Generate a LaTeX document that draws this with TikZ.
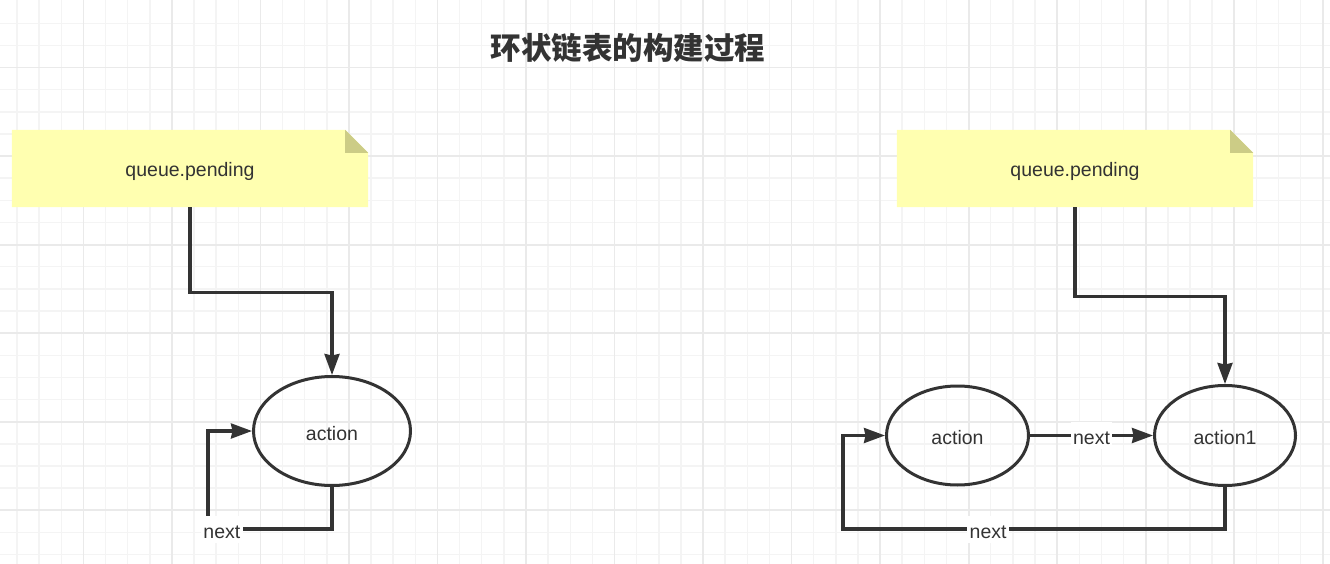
\documentclass[tikz,border=0pt]{standalone}
\usepackage{fontspec}
\setmainfont{Liberation Sans}
\newfontfamily\cjk{Noto Sans CJK SC}
\usetikzlibrary{shapes.geometric,arrows.meta}
\definecolor{ink}{HTML}{333333}
\definecolor{notecol}{HTML}{FFFFB0}
\definecolor{foldcol}{HTML}{CCCC86}
\definecolor{gridmin}{HTML}{F4F4F4}
\definecolor{gridmaj}{HTML}{EAEAEA}
\pgfdeclarelayer{grid}
\pgfdeclarelayer{paper}
\pgfsetlayers{grid,paper,main}
\tikzset{
  note/.style={minimum width=356pt, minimum height=77pt, inner sep=0pt, text=ink, text height=19pt, text depth=2pt, font=\fontsize{19.5}{23}\selectfont},
  act/.style={ellipse, draw=ink, line width=3pt, inner sep=0pt, text=ink, text height=20pt, text depth=2pt, font=\fontsize{19.5}{23}\selectfont},
  link/.style={draw=ink, line width=3.1pt, -{Stealth[length=21pt,width=15pt,inset=1.5pt]}},
  lbl/.style={fill=white, text=ink, inner sep=2.5pt, text height=20pt, text depth=2pt, font=\fontsize{19.5}{23}\selectfont},
}
% foglio giallo con angolo piegato
\newcommand\notepaper[1]{%
  \begin{pgfonlayer}{paper}
    \fill[notecol](#1.south west)--(#1.north west)--([xshift=-23pt]#1.north east)--([yshift=-23pt]#1.north east)--(#1.south east)--cycle;
    \fill[foldcol]([xshift=-23pt]#1.north east)--([shift={(-23pt,-23pt)}]#1.north east)--([yshift=-23pt]#1.north east)--cycle;
  \end{pgfonlayer}}
\begin{document}
\begin{tikzpicture}[x=1pt,y=-1pt]
    \useasboundingbox(0,0)rectangle(1330,564);
    % griglia
    \begin{pgfonlayer}{grid}
        \foreach \i in {0,...,59} \draw[gridmin,line width=1.5pt](17+\i*22.13,0)--++(0,564);
        \foreach \i in {0,...,24} \draw[gridmin,line width=1.5pt](0,23.3+\i*22.13)--++(1330,0);
        \foreach \i in {0,...,14} \draw[gridmaj,line width=1.8pt](83.4+\i*88.52,0)--++(0,564);
        \foreach \i in {0,...,5} \draw[gridmaj,line width=1.8pt](0,67.56+\i*88.52)--++(1330,0);
    \end{pgfonlayer}

    \node[text=ink,font=\cjk\bfseries\fontsize{30.5}{34}\selectfont](title) at (628,48) {环状链表的构建过程};

    % primo passo
    \node[note](qL) at (190,168.5) {queue.pending};
    \notepaper{qL}
    \node[act,minimum width=157pt,minimum height=109pt](aL) at (332,431) {action};
    \coordinate(loopL) at (208,529);
    \draw[link](qL.south)--++(0,85)-|(aL.north);
    \draw[link](aL.south)|-node[lbl,pos=0.944]{next}(loopL)|-(aL.west);

    % secondo passo
    \node[note](qR) at (1075,168.5) {queue.pending};
    \notepaper{qR}
    \node[act,minimum width=142pt,minimum height=99pt](aR) at (957.5,435.5) {action};
    \node[act,minimum width=141pt,minimum height=100pt](a1) at (1225,435.5) {action1};
    \coordinate(loopR) at (843,529);
    \draw[link](qR.south)--++(0,89)-|(a1.north);
    \draw[link](aR.east)--node[lbl]{next}(a1.west);
    \draw[link](a1.south)|-node[lbl,pos=0.81]{next}(loopR)|-(aR.west);
\end{tikzpicture}
\end{document}
